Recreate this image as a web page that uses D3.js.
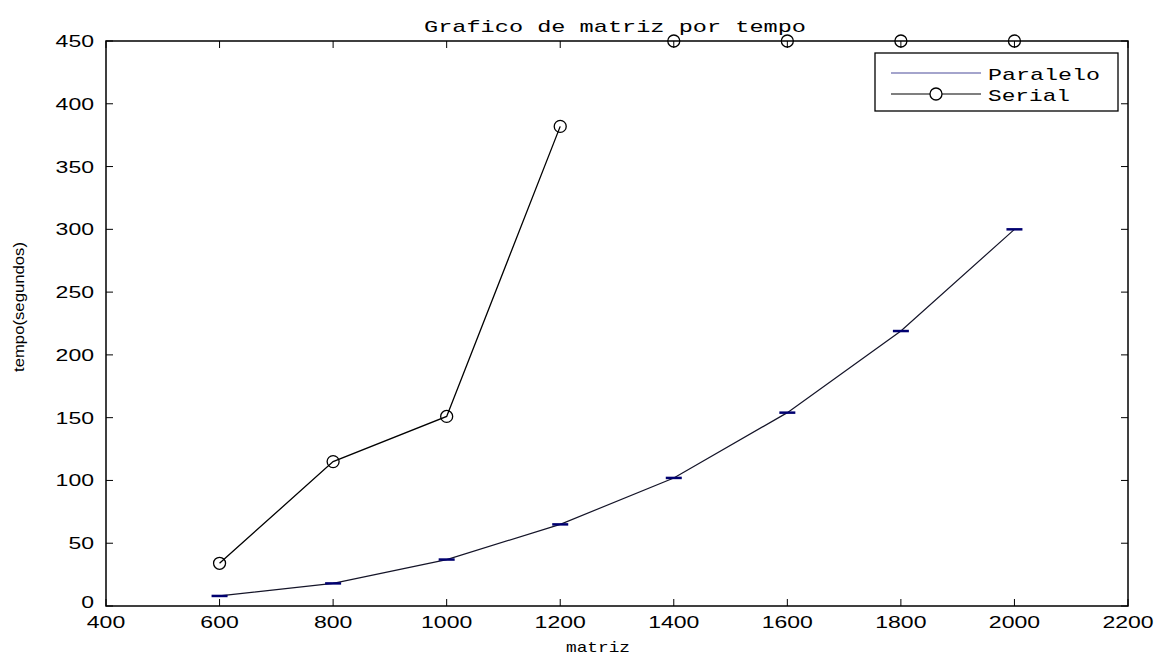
<!DOCTYPE html>
<html>
<head>
  <meta charset="utf-8">
  <script src="https://d3js.org/d3.v7.min.js"></script>
  <style>
    body { margin: 0; background: #fff; }
    text { fill: #000; }
  </style>
</head>
<body>
<script type="text/javascript">

  // matrix sizes and measured times (seconds)
  var matriz = [600, 800, 1000, 1200, 1400, 1600, 1800, 2000];
  var paralelo = [8, 18, 37, 65, 102, 154, 219, 300];
  // Infinity = off the scale, marker sits on the top edge with no line to it
  var serial = [34, 115, 151, 382, Infinity, Infinity, Infinity, Infinity];

  var xTicks = [400, 600, 800, 1000, 1200, 1400, 1600, 1800, 2000, 2200];
  var yTicks = [0, 50, 100, 150, 200, 250, 300, 350, 400, 450];

  function draw() {
      var width = 1164, height = 660;
      // plot box edges ("top" is a window global, so avoid that name)
      var boxL = 106, boxR = 1128, boxT = 41, boxB = 606;

      var svg = d3.select("body").append("svg")
          .attr("width", width)
          .attr("height", height);

      var x = d3.scaleLinear().domain([400, 2200]).range([boxL, boxR]);
      var y = d3.scaleLinear().domain([0, 450]).range([boxB, boxT]).clamp(true);

      var tickFont = "'Liberation Sans', Arial, sans-serif";
      var monoFont = "'Liberation Mono', 'DejaVu Sans Mono', monospace";
      var digitW = 12.8;   // old matlab fonts are wide

      // box
      svg.append("rect")
          .attr("x", boxL).attr("y", boxT)
          .attr("width", boxR - boxL).attr("height", boxB - boxT)
          .attr("fill", "#fff").attr("stroke", "#000").attr("stroke-width", 1.5);

      // ticks, inward on all four sides (matlab style)
      var tl = 7;
      xTicks.forEach(function (t) {
          svg.append("line").attr("x1", x(t)).attr("x2", x(t))
              .attr("y1", boxB).attr("y2", boxB - tl).attr("stroke", "#000");
          svg.append("line").attr("x1", x(t)).attr("x2", x(t))
              .attr("y1", boxT).attr("y2", boxT + tl).attr("stroke", "#000");
      });
      yTicks.forEach(function (t) {
          svg.append("line").attr("x1", boxL).attr("x2", boxL + tl)
              .attr("y1", y(t)).attr("y2", y(t)).attr("stroke", "#000");
          svg.append("line").attr("x1", boxR).attr("x2", boxR - tl)
              .attr("y1", y(t)).attr("y2", y(t)).attr("stroke", "#000");
      });

      svg.selectAll(".xlab").data(xTicks).enter().append("text")
          .attr("x", function (d) { return x(d); })
          .attr("y", 628)
          .attr("text-anchor", "middle")
          .attr("textLength", function (d) { return String(d).length * digitW; })
          .attr("lengthAdjust", "spacingAndGlyphs")
          .style("font-family", tickFont).style("font-size", "17px")
          .text(function (d) { return d; });

      svg.selectAll(".ylab").data(yTicks).enter().append("text")
          .attr("x", 94)
          .attr("y", function (d) { return y(d) + (d === 0 ? 2 : 6); })
          .attr("text-anchor", "end")
          .attr("textLength", function (d) { return String(d).length * digitW; })
          .attr("lengthAdjust", "spacingAndGlyphs")
          .style("font-family", tickFont).style("font-size", "17px")
          .text(function (d) { return d; });

      // titles
      svg.append("text")
          .attr("x", 615).attr("y", 32)
          .attr("text-anchor", "middle")
          .attr("textLength", 382).attr("lengthAdjust", "spacingAndGlyphs")
          .style("font-family", monoFont).style("font-size", "17px")
          .text("Grafico de matriz por tempo");

      svg.append("text")
          .attr("x", 598).attr("y", 652)
          .attr("text-anchor", "middle")
          .attr("textLength", 64).attr("lengthAdjust", "spacingAndGlyphs")
          .style("font-family", monoFont).style("font-size", "15px")
          .text("matriz");

      svg.append("text")
          .attr("transform", "translate(24,307) rotate(-90)")
          .attr("text-anchor", "middle")
          .attr("textLength", 130).attr("lengthAdjust", "spacingAndGlyphs")
          .style("font-family", tickFont).style("font-size", "14px")
          .text("tempo(segundos)");

      var line = d3.line()
          .defined(function (d) { return isFinite(d[1]); })
          .x(function (d) { return x(d[0]); })
          .y(function (d) { return y(d[1]); });

      var parData = matriz.map(function (m, i) { return [m, paralelo[i]]; });
      var serData = matriz.map(function (m, i) { return [m, serial[i]]; });

      // Paralelo
      svg.append("path").datum(parData)
          .attr("d", line)
          .attr("fill", "none").attr("stroke", "#141428").attr("stroke-width", 1.2);
      svg.selectAll(".pm").data(parData).enter().append("line")
          .attr("x1", function (d) { return x(d[0]) - 8; })
          .attr("x2", function (d) { return x(d[0]) + 8; })
          .attr("y1", function (d) { return y(d[1]); })
          .attr("y2", function (d) { return y(d[1]); })
          .attr("stroke", "#000070").attr("stroke-width", 2.5);

      // Serial
      svg.append("path").datum(serData)
          .attr("d", line)
          .attr("fill", "none").attr("stroke", "#000").attr("stroke-width", 1.3);
      svg.selectAll(".sm").data(serData).enter().append("circle")
          .attr("cx", function (d) { return x(d[0]); })
          .attr("cy", function (d) { return y(d[1]); })
          .attr("r", 6)
          .attr("fill", "none").attr("stroke", "#000").attr("stroke-width", 1.3);

      // legend
      var lg = svg.append("g");
      lg.append("rect")
          .attr("x", 875).attr("y", 53).attr("width", 243).attr("height", 58)
          .attr("fill", "#fff").attr("stroke", "#000").attr("stroke-width", 1.3);
      lg.append("line").attr("x1", 891).attr("x2", 981).attr("y1", 73).attr("y2", 73)
          .attr("stroke", "#4a4a9a").attr("stroke-width", 1.2);
      lg.append("line").attr("x1", 891).attr("x2", 981).attr("y1", 94).attr("y2", 94)
          .attr("stroke", "#000").attr("stroke-width", 1.2);
      lg.append("circle").attr("cx", 936).attr("cy", 94).attr("r", 6)
          .attr("fill", "#fff").attr("stroke", "#000").attr("stroke-width", 1.3);
      lg.append("text").attr("x", 988).attr("y", 80)
          .attr("textLength", 112).attr("lengthAdjust", "spacingAndGlyphs")
          .style("font-family", monoFont).style("font-size", "17px")
          .text("Paralelo");
      lg.append("text").attr("x", 988).attr("y", 101)
          .attr("textLength", 82).attr("lengthAdjust", "spacingAndGlyphs")
          .style("font-family", monoFont).style("font-size", "17px")
          .text("Serial");
  }

  draw();
</script>
</body>
</html>
